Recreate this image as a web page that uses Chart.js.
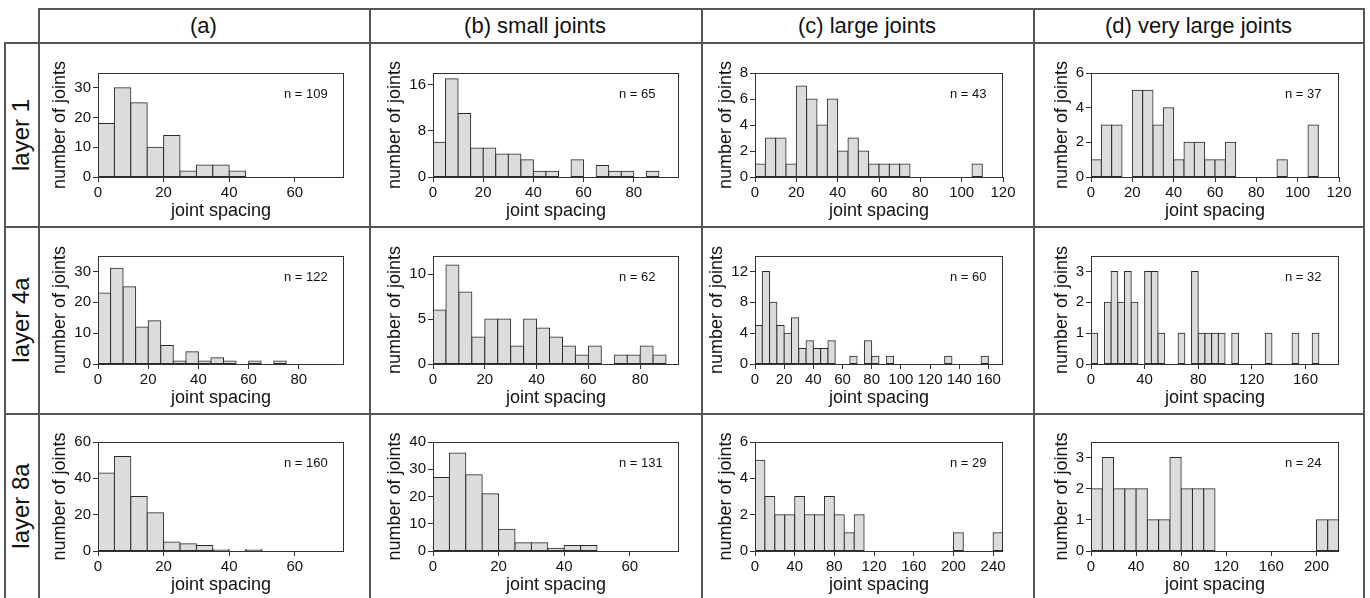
<!DOCTYPE html>
<html>
<head>
<meta charset="utf-8">
<script src="https://cdn.jsdelivr.net/npm/chart.js@4.4.1/dist/chart.umd.min.js"></script>
<style>
body { margin: 0; background: #fff; font-family: 'Liberation Sans', Arial, sans-serif; color: #111; }
#page { position: relative; width: 1370px; height: 598px; overflow: hidden; }
.line { position: absolute; background: #555; }
.head { position: absolute; top: 9px; height: 34px; line-height: 34px; text-align: center; font-size: 22px; }
.rowlab { position: absolute; font-size: 24px; white-space: nowrap; transform: translate(-50%, -50%) rotate(-90deg); }
canvas { position: absolute; }
</style>
</head>
<body>
<div id="page"></div>
<script>
// joint counts per bin, first bin starts at 0
const layer1_a = [18, 30, 25, 10, 14, 2, 4, 4, 2];
const layer1_b = [6, 17, 11, 5, 5, 4, 4, 3, 1, 1, 0, 3, 0, 2, 1, 1, 0, 1];
const layer1_c = [1, 3, 3, 1, 7, 6, 4, 6, 2, 3, 2, 1, 1, 1, 1, 0, 0, 0, 0, 0, 0, 1];
const layer1_d = [1, 3, 3, 0, 5, 5, 3, 4, 1, 2, 2, 1, 1, 2, 0, 0, 0, 0, 1, 0, 0, 3];

const layer4a_a = [23, 31, 25, 12, 14, 6, 1, 4, 1, 2, 1, 0, 1, 0, 1];
const layer4a_b = [6, 11, 8, 3, 5, 5, 2, 5, 4, 3, 2, 1, 2, 0, 1, 1, 2, 1];
const layer4a_c = [5, 12, 8, 5, 4, 6, 2, 3, 2, 2, 3, 0, 0, 1, 0, 3, 1, 0, 1, 0, 0, 0, 0, 0, 0, 0, 1, 0, 0, 0, 0, 1];
const layer4a_d = [1, 0, 2, 3, 2, 3, 2, 0, 3, 3, 1, 0, 0, 1, 0, 3, 1, 1, 1, 1, 0, 1, 0, 0, 0, 0, 1, 0, 0, 0, 1, 0, 0, 1];

const layer8a_a = [43, 52, 30, 21, 5, 4, 3, 1, 0, 1];
const layer8a_b = [27, 36, 28, 21, 8, 3, 3, 1, 2, 2];
const layer8a_c = [5, 3, 2, 2, 3, 2, 2, 3, 2, 1, 2, 0, 0, 0, 0, 0, 0, 0, 0, 0, 1, 0, 0, 0, 1];
const layer8a_d = [2, 3, 2, 2, 2, 1, 1, 3, 2, 2, 2, 0, 0, 0, 0, 0, 0, 0, 0, 0, 1, 1];

const headers = ['(a)', '(b) small joints', '(c) large joints', '(d) very large joints'];
const rowLabels = ['layer 1', 'layer 4a', 'layer 8a'];

// bin width and axis ranges, one row per layer
const binWidths = [[5, 5, 5, 5], [5, 5, 5, 5], [5, 5, 10, 10]];
const xMaxes = [[75, 98, 120, 120], [98, 95, 170, 185], [75, 75, 250, 220]];
const xSteps = [[20, 20, 20, 20], [20, 20, 20, 40], [20, 20, 40, 40]];
const yMaxes = [[35, 18, 8, 6], [35, 12, 14, 3.5], [60, 40, 6, 3.5]];
const ySteps = [[10, 8, 2, 2], [10, 5, 4, 1], [20, 10, 2, 1]];

const counts = [
  [layer1_a, layer1_b, layer1_c, layer1_d],
  [layer4a_a, layer4a_b, layer4a_c, layer4a_d],
  [layer8a_a, layer8a_b, layer8a_c, layer8a_d]
];

// page layout
const FONT = "'Liberation Sans', Arial, sans-serif";
const colLeft = [98, 433, 755, 1091];
const colRight = [344, 679, 1003, 1339];
const rowTop = [73, 256, 442];
const rowBottom = [177, 364, 551];
const nOffset = [60, 60, 53, 54];
const Y_AXIS_W = 62, X_AXIS_H = 46, PAD_TOP = 30, PAD_RIGHT = 24;

const page = document.getElementById('page');

function addLine(x, y, w, h) {
  const d = document.createElement('div');
  d.className = 'line';
  d.style.left = x + 'px'; d.style.top = y + 'px';
  d.style.width = w + 'px'; d.style.height = h + 'px';
  page.appendChild(d);
}

// table frame
addLine(38, 8, 1327, 2);
addLine(4, 42, 1361, 2);
addLine(4, 226, 1361, 2);
addLine(4, 413, 1361, 2);
addLine(4, 42, 2, 556);
[38, 369, 701, 1033, 1363].forEach(x => addLine(x, 8, 2, 590));

const colEdges = [38, 369, 701, 1033, 1364];
headers.forEach((t, i) => {
  const d = document.createElement('div');
  d.className = 'head';
  d.style.left = colEdges[i] + 'px';
  d.style.width = (colEdges[i + 1] - colEdges[i]) + 'px';
  d.textContent = t;
  page.appendChild(d);
});

const rowMid = [135, 320, 506];
rowLabels.forEach((t, i) => {
  const d = document.createElement('div');
  d.className = 'rowlab';
  d.style.left = '21px';
  d.style.top = rowMid[i] + 'px';
  d.textContent = t;
  page.appendChild(d);
});

// plot frame, sample size and the y axis title
const panelDecor = {
  id: 'panelDecor',
  afterDraw(chart, args, opts) {
    const { ctx, chartArea: a } = chart;
    ctx.save();
    ctx.strokeStyle = '#333';
    ctx.lineWidth = 1;
    ctx.strokeRect(Math.round(a.left) + 0.5, Math.round(a.top) + 0.5, Math.round(a.width) - 1, Math.round(a.height));

    ctx.fillStyle = '#111';
    ctx.textBaseline = 'middle';
    ctx.font = '13px ' + FONT;
    ctx.textAlign = 'left';
    ctx.fillText(opts.nText, a.right - opts.nRight, a.top + 21);

    const ys = chart.scales.y;
    ctx.font = '15px ' + FONT;
    let w = 0;
    ys.ticks.forEach(t => { w = Math.max(w, ctx.measureText(String(t.label)).width); });
    ctx.font = '18px ' + FONT;
    ctx.translate(a.left - 8 - w - 4 - 9, (a.top + a.bottom) / 2);
    ctx.rotate(-Math.PI / 2);
    ctx.textAlign = 'center';
    ctx.fillText('number of joints', 0, 0);
    ctx.restore();
  }
};

const tickGrid = { display: true, drawOnChartArea: false, drawTicks: true, tickLength: 5, tickColor: '#333', offset: false };

// ticks at whole multiples of the step only
function stepTicks(max, step) {
  const t = [];
  for (let v = 0; v <= max + 1e-9; v += step) t.push({ value: v });
  return t;
}

function makePanel(r, c) {
  const data = counts[r][c];
  const bin = binWidths[r][c];
  const xMax = xMaxes[r][c], yMax = yMaxes[r][c];
  const xStep = xSteps[r][c], yStep = ySteps[r][c];
  const plotW = colRight[c] - colLeft[c];
  const plotH = rowBottom[r] - rowTop[r];
  const total = data.reduce((s, v) => s + v, 0);

  const cv = document.createElement('canvas');
  cv.width = plotW + Y_AXIS_W + PAD_RIGHT;
  cv.height = plotH + PAD_TOP + X_AXIS_H;
  cv.style.left = (colLeft[c] - Y_AXIS_W) + 'px';
  cv.style.top = (rowTop[r] - PAD_TOP) + 'px';
  page.appendChild(cv);

  new Chart(cv, {
    type: 'bar',
    data: {
      datasets: [{
        data: data.map((v, i) => ({ x: (i + 0.5) * bin, y: v })),
        backgroundColor: '#dcdcdc',
        borderColor: '#2a2a2a',
        borderWidth: 1,
        borderSkipped: false,
        inflateAmount: 0.5,
        barPercentage: 1,
        categoryPercentage: 1
      }]
    },
    options: {
      responsive: false,
      animation: false,
      devicePixelRatio: 1,
      layout: { padding: { left: 0, top: PAD_TOP, right: PAD_RIGHT, bottom: 0 } },
      plugins: {
        legend: { display: false },
        tooltip: { enabled: false },
        panelDecor: { nText: 'n = ' + total, nRight: nOffset[c] }
      },
      scales: {
        x: {
          type: 'linear', min: 0, max: xMax, offset: false,
          grid: tickGrid,
          border: { display: false },
          ticks: { color: '#111', font: { size: 15, family: FONT }, padding: 2, maxRotation: 0, autoSkip: false },
          title: { display: true, text: 'joint spacing', color: '#111', font: { size: 18, family: FONT }, padding: { top: 0, bottom: 1 } },
          afterBuildTicks: s => { s.ticks = stepTicks(xMax, xStep); },
          afterFit: s => { s.height = X_AXIS_H; }
        },
        y: {
          type: 'linear', min: 0, max: yMax,
          grid: tickGrid,
          border: { display: false },
          ticks: { color: '#111', font: { size: 15, family: FONT }, padding: 2, autoSkip: false },
          afterBuildTicks: s => { s.ticks = stepTicks(yMax, yStep); },
          afterFit: s => { s.width = Y_AXIS_W; }
        }
      }
    },
    plugins: [panelDecor]
  });
}

for (let r = 0; r < 3; r++) {
  for (let c = 0; c < 4; c++) makePanel(r, c);
}
</script>
</body>
</html>
